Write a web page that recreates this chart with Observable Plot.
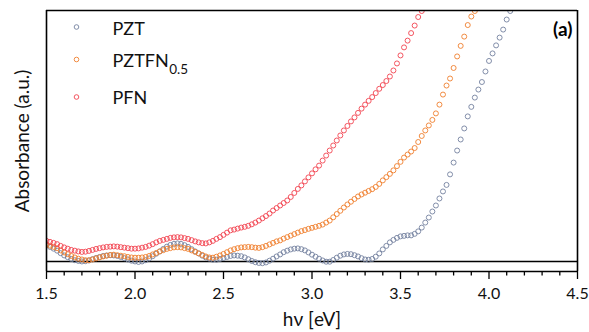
<!DOCTYPE html>
<html>
<head>
<meta charset="utf-8">
<script src="https://cdn.jsdelivr.net/npm/d3@7"></script>
<script src="https://cdn.jsdelivr.net/npm/@observablehq/plot@0.6"></script>
<style>
  html, body { margin: 0; padding: 0; background: #fff; }
  #chart { width: 589px; height: 332px; }
  svg { font-family: Lato, "Open Sans", sans-serif; }
</style>
</head>
<body>
<div id="chart"></div>
<script>
// Photon energy grid (eV)
const energies = [
  1.50,1.52,1.54,1.56,1.58,1.60,1.62,1.64,1.66,1.68,1.70,1.72,1.74,1.76,1.78,1.80,1.82,1.84,1.86,1.88,
  1.90,1.92,1.94,1.96,1.98,2.00,2.02,2.04,2.06,2.08,2.10,2.12,2.14,2.16,2.18,2.20,2.22,2.24,2.26,2.28,
  2.30,2.32,2.34,2.36,2.38,2.40,2.42,2.44,2.46,2.48,2.50,2.52,2.54,2.56,2.58,2.60,2.62,2.64,2.66,2.68,
  2.70,2.72,2.74,2.76,2.78,2.80,2.82,2.84,2.86,2.88,2.90,2.92,2.94,2.96,2.98,3.00,3.02,3.04,3.06,3.08,
  3.10,3.12,3.14,3.16,3.18,3.20,3.22,3.24,3.26,3.28,3.30,3.32,3.34,3.36,3.38,3.40,3.42,3.44,3.46,3.48,
  3.50,3.52,3.54,3.56,3.58,3.60,3.62,3.64,3.66,3.68,3.70,3.72,3.74,3.76,3.78,3.80,3.82,3.84,3.86,3.88,
  3.90,3.92,3.94,3.96,3.98,4.00,4.02,4.04,4.06,4.08,4.10,4.12
];

// Absorbance (a.u.), one value per energy, series end where they leave the frame
const pzt = [
  0.064,0.058,0.051,0.043,0.033,0.024,0.017,0.010,0.005,0.002,0.000,0.001,0.004,0.009,0.014,0.018,0.022,0.024,0.025,0.024,
  0.022,0.018,0.013,0.008,0.003,0.000,-0.002,0.000,0.005,0.012,0.021,0.031,0.040,0.050,0.059,0.066,0.070,0.072,0.070,0.065,
  0.058,0.049,0.040,0.032,0.023,0.016,0.011,0.007,0.007,0.010,0.014,0.018,0.022,0.024,0.023,0.021,0.016,0.009,0.002,-0.003,
  -0.006,-0.007,-0.004,0.003,0.011,0.020,0.028,0.037,0.043,0.048,0.051,0.052,0.049,0.044,0.036,0.027,0.019,0.011,0.004,-0.001,
  -0.001,0.006,0.015,0.023,0.028,0.030,0.029,0.025,0.020,0.013,0.008,0.007,0.010,0.019,0.032,0.048,0.062,0.076,0.086,0.094,
  0.100,0.102,0.104,0.104,0.110,0.120,0.135,0.155,0.175,0.199,0.223,0.251,0.279,0.305,0.347,0.394,0.442,0.486,0.530,0.578,
  0.616,0.653,0.685,0.715,0.757,0.799,0.829,0.861,0.892,0.924,0.964,0.998
];
const pztfn = [
  0.067,0.063,0.058,0.053,0.044,0.036,0.029,0.022,0.016,0.011,0.008,0.005,0.005,0.008,0.012,0.016,0.020,0.023,0.026,0.027,
  0.025,0.023,0.021,0.018,0.016,0.015,0.015,0.016,0.018,0.022,0.028,0.034,0.040,0.045,0.050,0.053,0.056,0.057,0.056,0.053,
  0.050,0.044,0.038,0.032,0.026,0.020,0.016,0.015,0.019,0.024,0.030,0.037,0.044,0.049,0.053,0.056,0.057,0.058,0.057,0.055,
  0.054,0.057,0.062,0.068,0.074,0.080,0.084,0.091,0.097,0.103,0.109,0.115,0.121,0.125,0.130,0.134,0.138,0.142,0.147,0.155,
  0.163,0.176,0.189,0.202,0.215,0.227,0.238,0.249,0.259,0.267,0.274,0.281,0.288,0.297,0.309,0.323,0.336,0.349,0.363,0.380,
  0.397,0.414,0.426,0.438,0.452,0.476,0.500,0.522,0.542,0.564,0.590,0.625,0.665,0.701,0.729,0.771,0.817,0.859,0.896,0.942,
  0.976,0.998
];
const pfn = [
  0.082,0.078,0.074,0.069,0.062,0.056,0.051,0.046,0.043,0.040,0.038,0.039,0.042,0.046,0.050,0.053,0.056,0.058,0.059,0.060,
  0.059,0.057,0.055,0.053,0.051,0.051,0.052,0.055,0.058,0.063,0.069,0.076,0.082,0.086,0.090,0.094,0.096,0.097,0.096,0.093,
  0.090,0.085,0.080,0.076,0.073,0.072,0.076,0.082,0.090,0.097,0.106,0.115,0.124,0.127,0.131,0.135,0.138,0.142,0.148,0.155,
  0.163,0.172,0.181,0.191,0.203,0.213,0.223,0.233,0.243,0.257,0.273,0.289,0.303,0.319,0.335,0.351,0.367,0.382,0.402,0.422,
  0.442,0.462,0.482,0.502,0.522,0.540,0.558,0.574,0.592,0.609,0.625,0.640,0.655,0.671,0.688,0.703,0.719,0.737,0.761,0.789,
  0.821,0.853,0.880,0.910,0.940,0.974,0.998
];

const seriesNames = ["PZT", "PZTFN", "PFN"];
const seriesSubs = ["", "0.5", ""];
const seriesValues = [pzt, pztfn, pfn];
const seriesColors = ["#74819f", "#ef7f2e", "#f2434f"];

const xDomain = [1.5, 4.5];
const yDomain = [-0.04, 1.0];
const xMajorTicks = [1.5, 2.0, 2.5, 3.0, 3.5, 4.0, 4.5];
const xMinorTicks = [1.6,1.7,1.8,1.9,2.1,2.2,2.3,2.4,2.6,2.7,2.8,2.9,3.1,3.2,3.3,3.4,3.6,3.7,3.8,3.9,4.1,4.2,4.3,4.4];
const xTitle = "hν [eV]";
const yTitle = "Absorbance (a.u.)";
const panelLabel = "(a)";

const rows = [];
seriesValues.forEach((vals, s) => {
  vals.forEach((v, i) => rows.push({ series: seriesNames[s], e: energies[i], a: v }));
});

const font = "Lato, 'Open Sans', sans-serif";
const legendFontSize = 18;
const ctx = document.createElement("canvas").getContext("2d");
ctx.font = `${legendFontSize}px Lato`;

const marks = [
  Plot.ruleY([0], { stroke: "#000", strokeWidth: 1.6 }),
  Plot.dot(rows, {
    x: "e", y: "a", r: 2.5, stroke: "series", fill: "none", strokeWidth: 0.9, clip: true
  }),
  // plot box
  Plot.ruleY(yDomain, { stroke: "#000", strokeWidth: 1.6 }),
  Plot.ruleX(xDomain, { stroke: "#000", strokeWidth: 1.6 }),
  Plot.axisX(xMinorTicks, { tickSize: 4.5, tickFormat: () => "", strokeWidth: 1.3, label: null }),
  Plot.axisX(xMajorTicks, {
    tickSize: 8, tickPadding: 8, strokeWidth: 1.3, fontSize: 16, fill: "#111",
    tickFormat: d => d.toFixed(1), label: null
  }),
  Plot.text([xTitle], { frameAnchor: "bottom", dy: 48, lineAnchor: "middle", fontSize: 19, fill: "#111" }),
  Plot.text([yTitle], { frameAnchor: "left", dx: -24, rotate: -90, textAnchor: "middle", lineAnchor: "middle", fontSize: 19, fill: "#111" }),
  Plot.text([panelLabel], { frameAnchor: "top-right", dx: -5, dy: 19, textAnchor: "end", lineAnchor: "middle", fontSize: 19, fontWeight: "bold", fill: "#000" })
];

const legendTextDy = [19, 51, 88];
const legendDotDy = [16.5, 49, 86.5];
seriesNames.forEach((name, i) => {
  marks.push(Plot.dot([name], {
    frameAnchor: "top-left", dx: 30, dy: legendDotDy[i], r: 2.3,
    stroke: seriesColors[i], fill: "none", strokeWidth: 0.9
  }));
  marks.push(Plot.text([name], {
    frameAnchor: "top-left", dx: 66, dy: legendTextDy[i], textAnchor: "start", lineAnchor: "middle",
    fontSize: legendFontSize, fill: "#111"
  }));
  if (seriesSubs[i]) {
    const w = ctx.measureText(name).width;
    marks.push(Plot.text([seriesSubs[i]], {
      frameAnchor: "top-left", dx: 66 + w + 0.5, dy: legendTextDy[i] + 8, textAnchor: "start", lineAnchor: "middle",
      fontSize: 13.5, fill: "#111"
    }));
  }
});

const chart = Plot.plot({
  width: 589,
  height: 332,
  marginLeft: 46,
  marginRight: 12,
  marginTop: 10,
  marginBottom: 61,
  style: { fontFamily: font, background: "#fff" },
  x: { domain: xDomain, axis: null },
  y: { domain: yDomain, axis: null },
  color: { domain: seriesNames, range: seriesColors },
  marks
});
document.getElementById("chart").appendChild(chart);
</script>
</body>
</html>
